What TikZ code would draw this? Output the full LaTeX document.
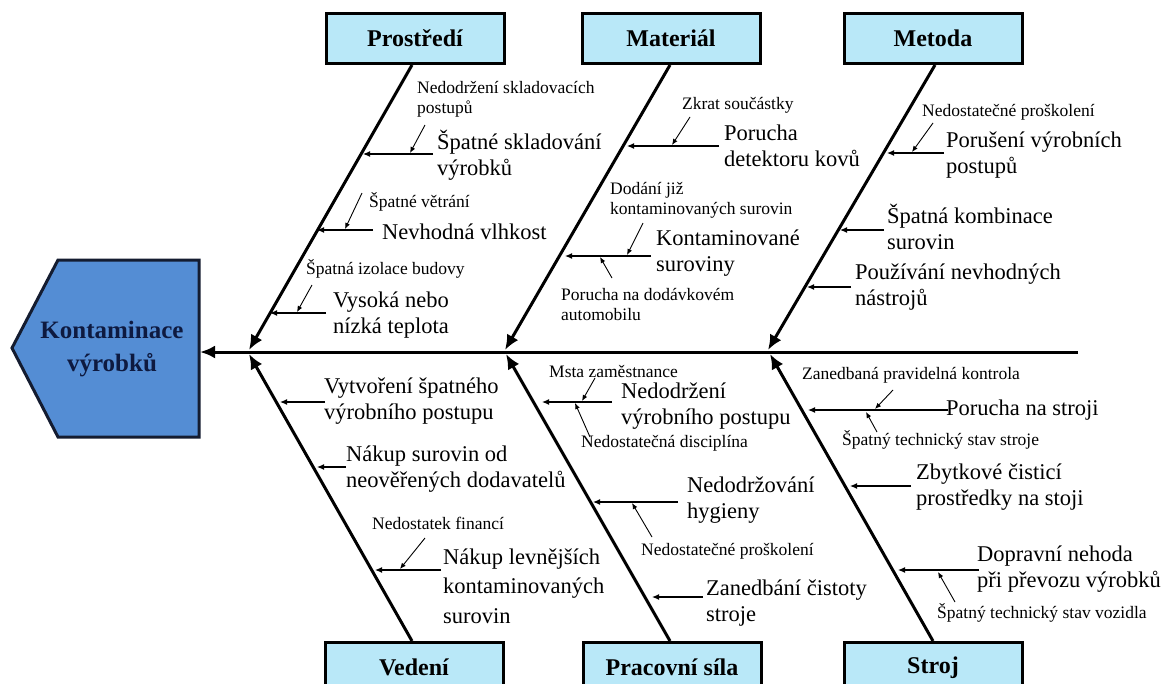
\documentclass[tikz,border=0pt]{standalone}
\usepackage{fontspec}
\setmainfont{Liberation Serif}
\usetikzlibrary{arrows.meta}
\definecolor{catfill}{RGB}{185,232,248}
\definecolor{headfill}{RGB}{84,141,212}
\definecolor{headtext}{RGB}{14,26,64}
\definecolor{headline}{RGB}{20,28,48}
\tikzset{
  bone/.style={line width=3pt,-{Latex[length=15pt,width=13pt]}},
  subarrow/.style={line width=1.2pt,-{Latex[length=7pt,width=6pt]}},
  tinyarrow/.style={line width=0.9pt,-{Latex[length=6pt,width=5pt]}},
  catbox/.style={draw,line width=3pt,fill=catfill,minimum width=178pt,minimum height=50pt,
    inner sep=0pt,font=\fontsize{24}{26}\selectfont\bfseries},
  cause/.style={anchor=west,align=left,inner sep=1pt,font=\fontsize{22.5}{26}\selectfont},
  subcause/.style={anchor=west,align=left,inner sep=1pt,font=\fontsize{17.5}{20}\selectfont},
}
\begin{document}
\begin{tikzpicture}[x=1pt,y=-1pt]
\useasboundingbox (0,0) rectangle (1173,683);
\clip (0,0) rectangle (1173,683);
\fill[white] (0,0) rectangle (1173,683);

% effect: pentagon head
\draw[line width=3pt,fill=headfill,draw=headline,line join=miter]
  (58,260) -- (199,260) -- (199,437) -- (58,437) -- (12,348) -- cycle;
\node[font=\fontsize{25}{33}\selectfont\bfseries,text=headtext,align=center] (head) at (112,349)
  {Kontaminace\\výrobků};
\coordinate (headE) at (200,352);
\coordinate (spineR) at (1078,352);
\draw[bone] (spineR) -- (headE);

% category boxes
\node[catbox] (prostredi) at (415,38.5) {Prostředí};
\node[catbox] (material) at (671,38.5) {Materiál};
\node[catbox] (metoda) at (933,38.5) {Metoda};
\node[catbox] (vedeni) at (414,667.5) {Vedení};
\node[catbox] (pracovni) at (672,667.5) {Pracovní síla};
\node[catbox] (stroj) at (933,667.5) {Stroj};

% bone ends on the spine
\coordinate (tP) at (249,350);
\coordinate (tMa) at (505,350);
\coordinate (tMe) at (768,350);
\coordinate (tV) at (249,354);
\coordinate (tPr) at (506,354);
\coordinate (tS) at (770,354);

\draw[bone] ([xshift=-3pt]prostredi.south) -- (tP);
\draw[bone] ([xshift=-1pt]material.south) -- (tMa);
\draw[bone] ([xshift=2pt]metoda.south) -- (tMe);
\draw[bone] ([xshift=-2pt]vedeni.north) -- (tV);
\draw[bone] ([xshift=-2pt]pracovni.north) -- (tPr);
\draw[bone] (stroj.north) -- (tS);

% ---------- Prostředí ----------
\node[cause] (c1) at (436,155) {Špatné skladování\\výrobků};
\coordinate (c1s) at (433,154); \coordinate (c1t) at (363,154);
\draw[subarrow] (c1s) -- (c1t);
\node[subcause] (s1) at (416,99) {Nedodržení skladovacích\\postupů};
\coordinate (s1s) at (425,125); \coordinate (s1t) at (410,153);
\draw[tinyarrow] (s1s) -- (s1t);

\node[cause] (c2) at (381,232) {Nevhodná vlhkost};
\coordinate (c2s) at (373,230); \coordinate (c2t) at (317,230);
\draw[subarrow] (c2s) -- (c2t);
\node[subcause] (s2) at (368,202) {Špatné větrání};
\coordinate (s2s) at (362,193); \coordinate (s2t) at (345,229);
\draw[tinyarrow] (s2s) -- (s2t);

\node[cause] (c3) at (332,315) {Vysoká nebo\\nízká teplota};
\coordinate (c3s) at (326,313); \coordinate (c3t) at (270,313);
\draw[subarrow] (c3s) -- (c3t);
\node[subcause] (s3) at (305,269) {Špatná izolace budovy};
\coordinate (s3s) at (312,285); \coordinate (s3t) at (297,312);
\draw[tinyarrow] (s3s) -- (s3t);

% ---------- Materiál ----------
\node[cause] (c4) at (723,146) {Porucha\\detektoru kovů};
\coordinate (c4s) at (719,146); \coordinate (c4t) at (627,146);
\draw[subarrow] (c4s) -- (c4t);
\node[subcause] (s4) at (681,105) {Zkrat součástky};
\coordinate (s4s) at (690,117); \coordinate (s4t) at (672,145);
\draw[tinyarrow] (s4s) -- (s4t);

\node[cause] (c5) at (655,253) {Kontaminované\\suroviny};
\coordinate (c5s) at (651,256); \coordinate (c5t) at (565,256);
\draw[subarrow] (c5s) -- (c5t);
\node[subcause] (s5) at (609,200) {Dodání již\\kontaminovaných surovin};
\coordinate (s5s) at (643,223); \coordinate (s5t) at (627,255);
\draw[tinyarrow] (s5s) -- (s5t);
\node[subcause] (s6) at (560,304) {Porucha na dodávkovém\\automobilu};
\coordinate (s6s) at (612,278); \coordinate (s6t) at (600,257);
\draw[tinyarrow] (s6s) -- (s6t);

% ---------- Metoda ----------
\node[cause] (c6) at (945,155) {Porušení výrobních\\postupů};
\coordinate (c6s) at (944,153); \coordinate (c6t) at (887,153);
\draw[subarrow] (c6s) -- (c6t);
\node[subcause] (s7) at (921,112) {Nedostatečné proškolení};
\coordinate (s7s) at (933,123); \coordinate (s7t) at (912,152);
\draw[tinyarrow] (s7s) -- (s7t);

\node[cause] (c7) at (886,227) {Špatná kombinace\\surovin};
\coordinate (c7s) at (884,230); \coordinate (c7t) at (840,230);
\draw[subarrow] (c7s) -- (c7t);

\node[cause] (c8) at (854,287) {Používání nevhodných\\nástrojů};
\coordinate (c8s) at (851,287); \coordinate (c8t) at (807,287);
\draw[subarrow] (c8s) -- (c8t);

% ---------- Vedení ----------
\node[cause] (c9) at (323,401) {Vytvoření špatného\\výrobního postupu};
\coordinate (c9s) at (325,402); \coordinate (c9t) at (280,402);
\draw[subarrow] (c9s) -- (c9t);

\node[cause] (c10) at (345,469) {Nákup surovin od\\neověřených dodavatelů};
\coordinate (c10s) at (346,467); \coordinate (c10t) at (317,467);
\draw[subarrow] (c10s) -- (c10t);

\node[cause,font=\fontsize{22.5}{29.5}\selectfont] (c11) at (442,586) {Nákup levnějších\\kontaminovaných\\surovin};
\coordinate (c11s) at (441,570); \coordinate (c11t) at (375,570);
\draw[subarrow] (c11s) -- (c11t);
\node[subcause] (s8) at (371,523) {Nedostatek financí};
\coordinate (s8s) at (425,538); \coordinate (s8t) at (400,569);
\draw[tinyarrow] (s8s) -- (s8t);

% ---------- Pracovní síla ----------
\node[cause] (c12) at (620,406) {Nedodržení\\výrobního postupu};
\coordinate (c12s) at (612,402); \coordinate (c12t) at (542,402);
\draw[subarrow] (c12s) -- (c12t);
\node[subcause] (s9) at (548,371) {Msta zaměstnance};
\coordinate (s9s) at (595,378); \coordinate (s9t) at (582,401);
\draw[tinyarrow] (s9s) -- (s9t);
\node[subcause] (s10) at (580,443) {Nedostatečná disciplína};
\coordinate (s10s) at (590,437); \coordinate (s10t) at (575,403);
\draw[tinyarrow] (s10s) -- (s10t);

\node[cause] (c13) at (686,500) {Nedodržování\\hygieny};
\coordinate (c13s) at (678,502); \coordinate (c13t) at (593,502);
\draw[subarrow] (c13s) -- (c13t);
\node[subcause] (s11) at (640,551) {Nedostatečné proškolení};
\coordinate (s11s) at (652,537); \coordinate (s11t) at (632,503);
\draw[tinyarrow] (s11s) -- (s11t);

\node[cause] (c14) at (705,603) {Zanedbání čistoty\\stroje};
\coordinate (c14s) at (703,597); \coordinate (c14t) at (652,597);
\draw[subarrow] (c14s) -- (c14t);

% ---------- Stroj ----------
\node[cause] (c15) at (945,410) {Porucha na stroji};
\coordinate (c15s) at (948,410); \coordinate (c15t) at (808,410);
\draw[subarrow] (c15s) -- (c15t);
\node[subcause] (s12) at (801,375) {Zanedbaná pravidelná kontrola};
\coordinate (s12s) at (893,390); \coordinate (s12t) at (875,409);
\draw[tinyarrow] (s12s) -- (s12t);
\node[subcause] (s13) at (841,440) {Špatný technický stav stroje};
\coordinate (s13s) at (877,432); \coordinate (s13t) at (866,412);
\draw[tinyarrow] (s13s) -- (s13t);

\node[cause] (c16) at (915,487) {Zbytkové čisticí\\prostředky na stoji};
\coordinate (c16s) at (911,486); \coordinate (c16t) at (850,486);
\draw[subarrow] (c16s) -- (c16t);

\node[cause] (c17) at (976,569) {Dopravní nehoda\\při převozu výrobků};
\coordinate (c17s) at (979,570); \coordinate (c17t) at (898,570);
\draw[subarrow] (c17s) -- (c17t);
\node[subcause] (s14) at (936,613) {Špatný technický stav vozidla};
\coordinate (s14s) at (955,602); \coordinate (s14t) at (938,572);
\draw[tinyarrow] (s14s) -- (s14t);
\end{tikzpicture}
\end{document}
